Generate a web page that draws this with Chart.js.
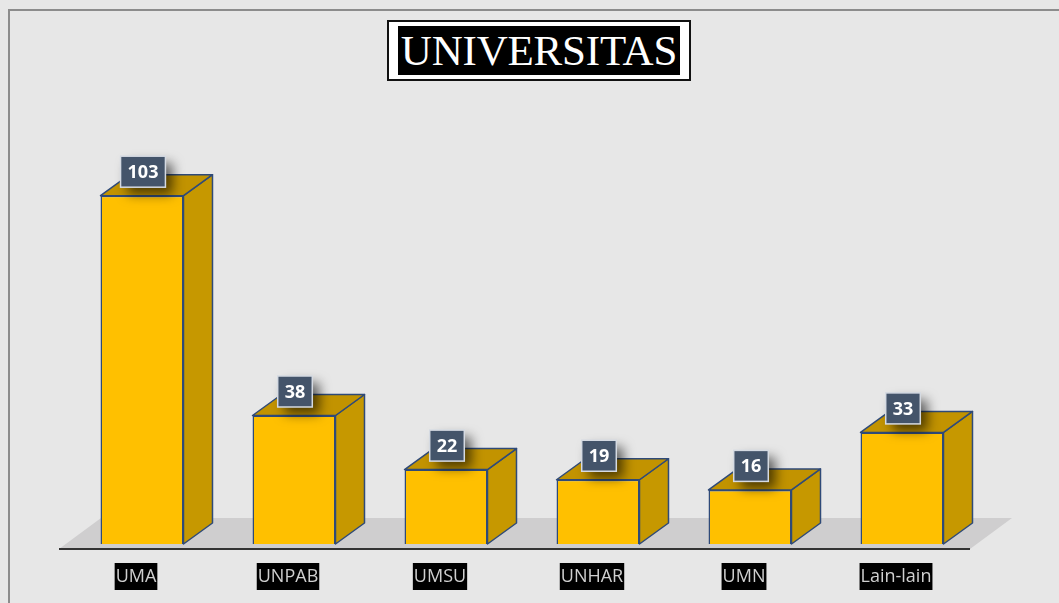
<!DOCTYPE html>
<html lang="id">
<head>
    <meta charset="UTF-8">
    <title>Universitas</title>
    <script src="https://cdn.jsdelivr.net/npm/chart.js"></script>
    <style>
        * { margin: 0; padding: 0; box-sizing: border-box; }
        body { width: 1059px; height: 603px; background: #e7e7e7; overflow: hidden; position: relative; }
        .frame { position: absolute; left: 8px; top: 9px; right: -4px; bottom: -4px; border: 2px solid #8c8c8c; }
        #wrap { position: absolute; left: 0; top: 0; width: 1059px; height: 603px; }
        .title { position: absolute; left: 387px; top: 20px; width: 304px; height: 61px; background: #fff; border: 2px solid #111; }
        .title span { position: absolute; left: 9px; top: 4px; width: 282px; height: 49px; background: #000; color: #fff;
            font-family: 'Liberation Serif', 'Times New Roman', serif; font-size: 43px; line-height: 49px; text-align: center; letter-spacing: -0.2px; }
    </style>
</head>
<body>
    <div class="frame"></div>
    <div id="wrap"><canvas id="chart" width="1059" height="603"></canvas></div>
    <div class="title"><span>UNIVERSITAS</span></div>
    <script>
        const categories = ["UMA", "UNPAB", "UMSU", "UNHAR", "UMN", "Lain-lain"];
        const counts = [103, 38, 22, 19, 16, 33];

        const DX = 29, DY = -21; // bar depth

        const box3d = {
            id: "box3d",
            beforeDatasetsDraw(chart) {
                const ctx = chart.ctx, a = chart.chartArea;
                const base = a.bottom;
                // floor
                ctx.save();
                ctx.fillStyle = "#cfcecf";
                ctx.beginPath();
                ctx.moveTo(a.left - 7, base + 5);
                ctx.lineTo(a.right - 8, base + 5);
                ctx.lineTo(a.right + 34, base - 26);
                ctx.lineTo(a.left + 35, base - 26);
                ctx.closePath();
                ctx.fill();
                ctx.strokeStyle = "#333";
                ctx.lineWidth = 2;
                ctx.beginPath();
                ctx.moveTo(a.left - 7, base + 5);
                ctx.lineTo(a.right - 8, base + 5);
                ctx.stroke();
                // sides and tops
                ctx.strokeStyle = "#2f4a78";
                ctx.lineWidth = 1.5;
                ctx.lineJoin = "round";
                chart.getDatasetMeta(0).data.forEach(bar => {
                    const l = bar.x - bar.width / 2, r = bar.x + bar.width / 2, t = bar.y, b = bar.base;
                    ctx.fillStyle = "#c69800";
                    ctx.beginPath();
                    ctx.moveTo(r, b); ctx.lineTo(r + DX, b + DY); ctx.lineTo(r + DX, t + DY); ctx.lineTo(r, t);
                    ctx.closePath(); ctx.fill(); ctx.stroke();
                    ctx.fillStyle = "#c29300";
                    ctx.beginPath();
                    ctx.moveTo(l, t); ctx.lineTo(l + DX, t + DY); ctx.lineTo(r + DX, t + DY); ctx.lineTo(r, t);
                    ctx.closePath(); ctx.fill(); ctx.stroke();
                });
                ctx.restore();
            },
            afterDatasetsDraw(chart) {
                const ctx = chart.ctx, a = chart.chartArea;
                const meta = chart.getDatasetMeta(0);
                ctx.save();
                // value labels
                ctx.font = "bold 18px 'Open Sans', sans-serif";
                ctx.textAlign = "center";
                ctx.textBaseline = "middle";
                meta.data.forEach((bar, i) => {
                    const txt = String(counts[i]);
                    const w = ctx.measureText(txt).width + 14, h = 31;
                    const cx = bar.x + 1, cy = bar.y - 24;
                    ctx.save();
                    ctx.shadowColor = "rgba(0,0,0,0.6)";
                    ctx.shadowBlur = 12;
                    ctx.shadowOffsetX = 7;
                    ctx.shadowOffsetY = 7;
                    ctx.fillStyle = "#44546a";
                    ctx.fillRect(cx - w / 2, cy - h / 2, w, h);
                    ctx.restore();
                    ctx.strokeStyle = "#d5dae2";
                    ctx.lineWidth = 1.5;
                    ctx.strokeRect(cx - w / 2, cy - h / 2, w, h);
                    ctx.fillStyle = "#fff";
                    ctx.fillText(txt, cx, cy + 1);
                });
                // category labels
                ctx.font = "18px 'Open Sans', sans-serif";
                const xs = chart.scales.x;
                categories.forEach((c, i) => {
                    const x = xs.getPixelForValue(i) - 6;
                    const w = ctx.measureText(c).width + 2;
                    ctx.fillStyle = "#000";
                    ctx.fillRect(x - w / 2, a.bottom + 19, w, 27);
                    ctx.fillStyle = "#cfcfcf";
                    ctx.fillText(c, x, a.bottom + 33);
                });
                ctx.restore();
            }
        };

        new Chart(document.getElementById("chart"), {
            type: "bar",
            data: {
                labels: categories,
                datasets: [{
                    data: counts,
                    backgroundColor: "#ffc000",
                    borderColor: "#2f4a78",
                    borderWidth: 1.5,
                    categoryPercentage: 1,
                    barPercentage: 0.546
                }]
            },
            options: {
                responsive: false,
                animation: false,
                layout: { padding: { left: 66, right: 81, top: 30, bottom: 59 } },
                plugins: { legend: { display: false }, tooltip: { enabled: false } },
                scales: {
                    x: { display: false },
                    y: { display: false, min: 0, max: 152 }
                }
            },
            plugins: [box3d]
        });
    </script>
</body>
</html>
